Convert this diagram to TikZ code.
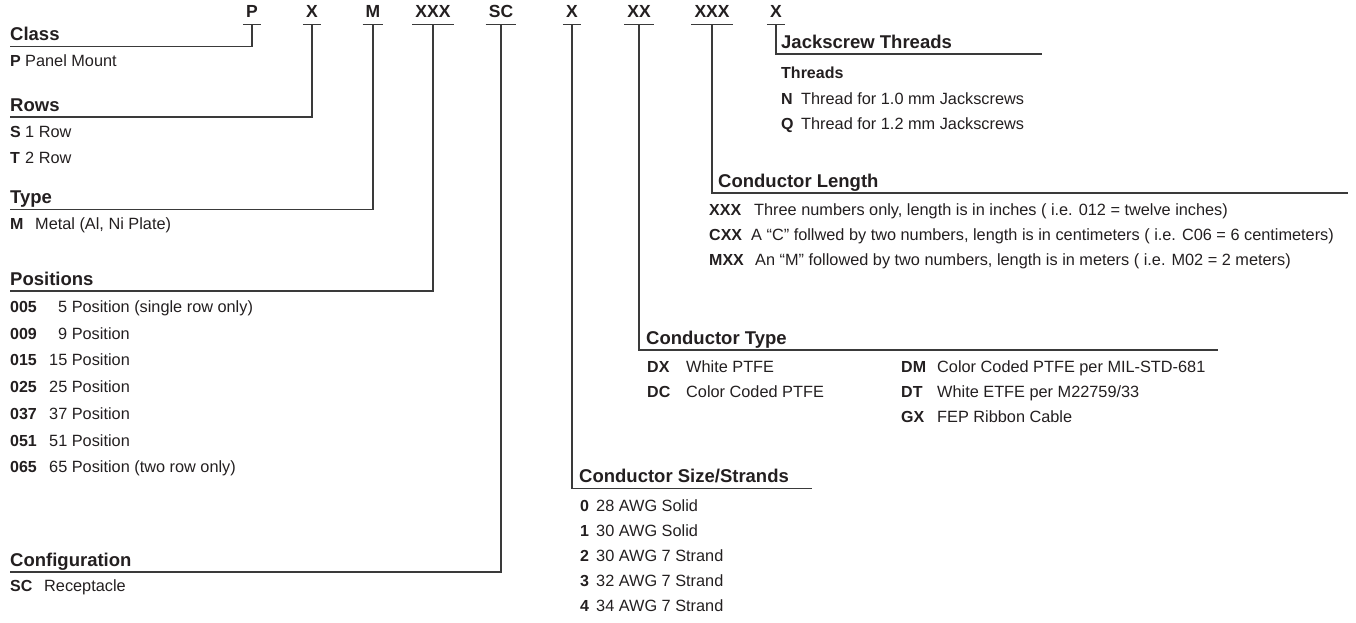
\documentclass[tikz,border=0pt]{standalone}
\usepackage{fontspec}
\setmainfont{Liberation Sans}
\definecolor{ink}{HTML}{231F20}
\definecolor{rulec}{HTML}{3A3A3A}
\begin{document}
\begin{tikzpicture}[x=1pt,y=-1pt,
  every node/.style={inner sep=0pt, text=ink},
  code/.style={font=\fontsize{17.5}{20}\selectfont\bfseries, anchor=base, inner xsep=3pt, inner ysep=7pt, text depth=0pt},
  head/.style={font=\fontsize{18.5}{22}\selectfont\bfseries, anchor=base west},
  key/.style={font=\fontsize{16}{19}\selectfont\bfseries, anchor=base west},
  desc/.style={font=\fontsize{16.3}{19}\selectfont, anchor=base west},
  uline/.style={draw=rulec, line width=1.3pt},
  link/.style={draw=rulec, line width=1.2pt},
]
\useasboundingbox (0,0) rectangle (1356,622);

% ---- top code row ----
\node[code] (cP)  at (252,17) {P};
\node[code] (cR)  at (312,17) {X};
\node[code] (cM)  at (373,17) {M};
\node[code] (cN)  at (433,17) {XXX};
\node[code] (cSC) at (501,17) {SC};
\node[code] (cS)  at (572,17) {X};
\node[code] (cT)  at (639,17) {XX};
\node[code] (cL)  at (712,17) {XXX};
\node[code] (cJ)  at (776,17) {X};
\foreach \n in {cP,cR,cM,cN,cSC,cS,cT,cL,cJ}
  \draw[uline] (\n.south west) -- (\n.south east);

% ---- Class ----
\node[head] (hClass) at (10,40.5) {Class};
\coordinate (eClass) at (10,46.5);
\node[key]  (kP)  at (10,66) {P};
\node[desc] (dP)  at (25,66) {Panel Mount};
\draw[link] (cP.south) |- (eClass);

% ---- Rows ----
\node[head] (hRows) at (10,111) {Rows};
\coordinate (eRows) at (10,117);
\node[key]  (kS) at (10,137) {S};
\node[desc] (dS) at (25,137) {1 Row};
\node[key]  (kT) at (10,163) {T};
\node[desc] (dT) at (25,163) {2 Row};
\draw[link] (cR.south) |- (eRows);

% ---- Type ----
\node[head] (hType) at (10,203.5) {Type};
\coordinate (eType) at (10,209.5);
\node[key]  (kM) at (10,229) {M};
\node[desc] (dM) at (35,229) {Metal (Al, Ni Plate)};
\draw[link] (cM.south) |- (eType);

% ---- Positions ----
\node[head] (hPos) at (10,285) {Positions};
\coordinate (ePos) at (10,291);
\node[key]  (k005) at (10,312.5) {005};
\node[desc] (d005) at (58,312.5) {5 Position (single row only)};
\node[key]  (k009) at (10,339.2) {009};
\node[desc] (d009) at (58,339.2) {9 Position};
\node[key]  (k015) at (10,365.9) {015};
\node[desc] (d015) at (49,365.9) {15 Position};
\node[key]  (k025) at (10,392.6) {025};
\node[desc] (d025) at (49,392.6) {25 Position};
\node[key]  (k037) at (10,419.3) {037};
\node[desc] (d037) at (49,419.3) {37 Position};
\node[key]  (k051) at (10,446) {051};
\node[desc] (d051) at (49,446) {51 Position};
\node[key]  (k065) at (10,472.7) {065};
\node[desc] (d065) at (49,472.7) {65 Position (two row only)};
\draw[link] (cN.south) |- (ePos);

% ---- Configuration ----
\node[head] (hCfg) at (10,566) {Configuration};
\coordinate (eCfg) at (10,572);
\node[key]  (kSC) at (10,591) {SC};
\node[desc] (dSC) at (44,591) {Receptacle};
\draw[link] (cSC.south) |- (eCfg);

% ---- Conductor Size/Strands ----
\node[head] (hSize) at (579,482.5) {Conductor Size/Strands};
\coordinate (eSize) at (812,488.5);
\node[key]  (k0) at (580,511) {0};
\node[desc] (d0) at (596,511) {28 AWG Solid};
\node[key]  (k1) at (580,536) {1};
\node[desc] (d1) at (596,536) {30 AWG Solid};
\node[key]  (k2) at (580,561) {2};
\node[desc] (d2) at (596,561) {30 AWG 7 Strand};
\node[key]  (k3) at (580,586) {3};
\node[desc] (d3) at (596,586) {32 AWG 7 Strand};
\node[key]  (k4) at (580,611) {4};
\node[desc] (d4) at (596,611) {34 AWG 7 Strand};
\draw[link] (cS.south) |- (eSize);

% ---- Conductor Type ----
\node[head] (hCT) at (646,344) {Conductor Type};
\coordinate (eCT) at (1218,350);
\node[key]  (kDX) at (647,372) {DX};
\node[desc] (dDX) at (686,372) {White PTFE};
\node[key]  (kDC) at (647,397) {DC};
\node[desc] (dDC) at (686,397) {Color Coded PTFE};
\node[key]  (kDM) at (901,372) {DM};
\node[desc] (dDM) at (937,372) {Color Coded PTFE per MIL-STD-681};
\node[key]  (kDT) at (901,397) {DT};
\node[desc] (dDT) at (937,397) {White ETFE per M22759/33};
\node[key]  (kGX) at (901,422) {GX};
\node[desc] (dGX) at (937,422) {FEP Ribbon Cable};
\draw[link] (cT.south) |- (eCT);

% ---- Conductor Length ----
\node[head] (hCL) at (718,187) {Conductor Length};
\coordinate (eCL) at (1348,193);
\node[key]  (kXXX) at (709,215) {XXX};
\node[desc] (dXXX) at (754,215) {Three numbers only, length is in inches ( i.e. 012 = twelve inches)};
\node[key]  (kCXX) at (709,240) {CXX};
\node[desc] (dCXX) at (751,240) {A “C” follwed by two numbers, length is in centimeters ( i.e. C06 = 6 centimeters)};
\node[key]  (kMXX) at (709,265) {MXX};
\node[desc] (dMXX) at (755,265) {An “M” followed by two numbers, length is in meters ( i.e. M02 = 2 meters)};
\draw[link] (cL.south) |- (eCL);

% ---- Jackscrew Threads ----
\node[head] (hJ) at (781,48) {Jackscrew Threads};
\coordinate (eJ) at (1042,54);
\node[key]  (kTh) at (781,78) {Threads};
\node[key]  (kN) at (781,104) {N};
\node[desc] (dN) at (801,104) {Thread for 1.0 mm Jackscrews};
\node[key]  (kQ) at (781,129) {Q};
\node[desc] (dQ) at (801,129) {Thread for 1.2 mm Jackscrews};
\draw[link] (cJ.south) |- (eJ);
\end{tikzpicture}
\end{document}
